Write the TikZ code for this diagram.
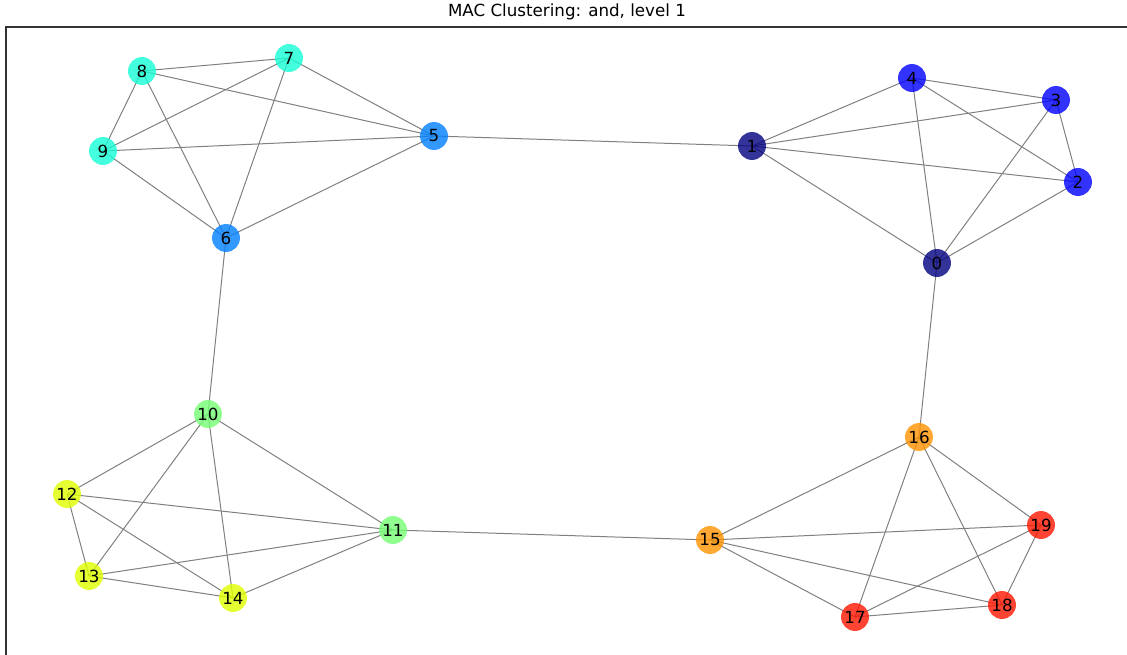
\documentclass[tikz,border=0pt]{standalone}
\usepackage{fontspec}
\setmainfont{DejaVu Sans}
\usepackage{tikz}
\usetikzlibrary{positioning,backgrounds}
\definecolor{jetA}{RGB}{0,0,128}
\definecolor{jetB}{RGB}{0,0,255}
\definecolor{jetC}{RGB}{0,128,255}
\definecolor{jetD}{RGB}{21,255,212}
\definecolor{jetE}{RGB}{116,255,116}
\definecolor{jetF}{RGB}{223,255,0}
\definecolor{jetG}{RGB}{255,146,0}
\definecolor{jetH}{RGB}{255,21,0}

\begin{document}
\begin{tikzpicture}[
x=0.02cm,y=-0.02cm,
MyNodes/.style={circle,inner sep=0pt,minimum size=15.9pt,fill opacity=0.8,text opacity=1,font=\fontsize{9.5}{11}\selectfont},
Edges/.style={draw=black!50,line width=0.57pt},
Frame/.style={draw=black!80,line width=0.6pt}
]
\useasboundingbox (0,0) rectangle (1127,655);

\node[font=\fontsize{9.5}{11}\selectfont] (title) at (567,12) {MAC Clustering: and, level 1};
\draw[Frame] (1127,27) -- (6,27) -- (6,655);

% cluster 0-4
\node[MyNodes,fill=jetA] (n0) at (937,263) {0};
\node[MyNodes,fill=jetA] (n1) at (752,146) {1};
\node[MyNodes,fill=jetB] (n2) at (1078,182) {2};
\node[MyNodes,fill=jetB] (n3) at (1056,100) {3};
\node[MyNodes,fill=jetB] (n4) at (912,78) {4};
% cluster 5-9
\node[MyNodes,fill=jetC] (n5) at (434,136) {5};
\node[MyNodes,fill=jetC] (n6) at (226,238) {6};
\node[MyNodes,fill=jetD] (n7) at (289,58) {7};
\node[MyNodes,fill=jetD] (n8) at (142,71) {8};
\node[MyNodes,fill=jetD] (n9) at (103,151) {9};
% cluster 10-14
\node[MyNodes,fill=jetE] (n10) at (208,414) {10};
\node[MyNodes,fill=jetE] (n11) at (393,530) {11};
\node[MyNodes,fill=jetF] (n12) at (67,494) {12};
\node[MyNodes,fill=jetF] (n13) at (89,576) {13};
\node[MyNodes,fill=jetF] (n14) at (233,598) {14};
% cluster 15-19
\node[MyNodes,fill=jetG] (n15) at (710,540) {15};
\node[MyNodes,fill=jetG] (n16) at (919,437) {16};
\node[MyNodes,fill=jetH] (n17) at (855,617) {17};
\node[MyNodes,fill=jetH] (n18) at (1002,605) {18};
\node[MyNodes,fill=jetH] (n19) at (1041,525) {19};

\begin{scope}[on background layer]
% every cluster is complete
\foreach \k in {0,5,10,15}{
  \foreach \i in {0,...,3}{
    \pgfmathtruncatemacro{\a}{\k+\i}
    \pgfmathtruncatemacro{\b}{\a+1}
    \foreach \j in {\b,...,\numexpr\k+4\relax}{
      \draw[Edges] (n\a.center) -- (n\j.center);
    }
  }
}
% links between clusters
\draw[Edges] (n1.center) -- (n5.center);
\draw[Edges] (n6.center) -- (n10.center);
\draw[Edges] (n11.center) -- (n15.center);
\draw[Edges] (n0.center) -- (n16.center);
\end{scope}

\end{tikzpicture}
\end{document}
